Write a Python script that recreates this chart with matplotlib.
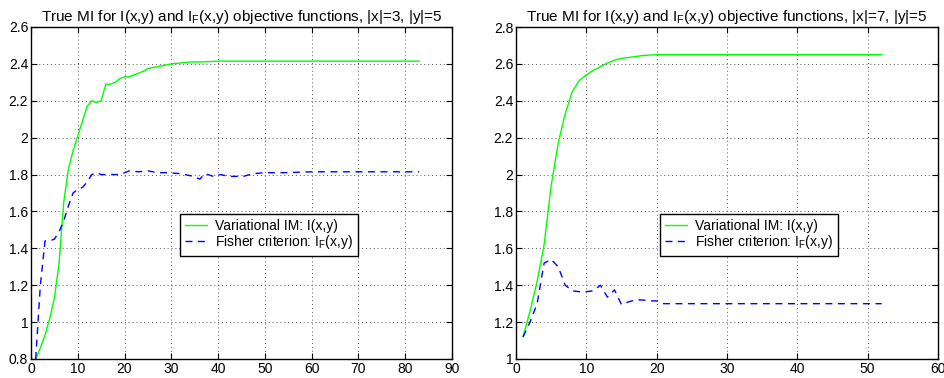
import matplotlib
matplotlib.use('Agg')
import matplotlib.pyplot as plt
from matplotlib.ticker import FormatStrFormatter

plt.rcParams['font.family'] = ['Liberation Sans', 'DejaVu Sans']
plt.rcParams['mathtext.fontset'] = 'custom'
plt.rcParams['mathtext.rm'] = 'Liberation Sans'
plt.rcParams['mathtext.it'] = 'Liberation Sans'
plt.rcParams['font.size'] = 10

# left panel: |x|=3, |y|=5
left_x_mi = [1, 2, 3, 4, 5, 6, 7, 8, 9, 10, 11, 12, 13, 14, 15, 16, 17, 18, 19, 20,
             21, 22, 23, 24, 25, 26, 27, 28, 29, 30, 32, 34, 36, 40, 50, 60, 70, 83]
left_mi = [0.80, 0.86, 0.93, 1.02, 1.13, 1.32, 1.65, 1.83, 1.93, 2.01, 2.09, 2.17, 2.20,
           2.19, 2.20, 2.29, 2.29, 2.30, 2.32, 2.33, 2.33, 2.34, 2.35, 2.36, 2.375, 2.38,
           2.385, 2.39, 2.395, 2.40, 2.405, 2.41, 2.41, 2.415, 2.415, 2.415, 2.415, 2.415]
left_x_fisher = [1, 2, 3, 4, 5, 6, 7, 8, 9, 10, 11, 12, 13, 14, 15, 17, 19, 21, 23, 25,
                 27, 29, 32, 34.7, 36.1, 37.2, 39, 40.4, 42.5, 45.4, 47.5, 50, 54, 60, 70, 83]
left_fisher = [0.80, 1.20, 1.44, 1.44, 1.45, 1.49, 1.55, 1.63, 1.70, 1.72, 1.73, 1.76,
               1.80, 1.81, 1.80, 1.80, 1.80, 1.82, 1.815, 1.82, 1.81, 1.81, 1.805, 1.79,
               1.775, 1.805, 1.79, 1.80, 1.79, 1.79, 1.805, 1.81, 1.81, 1.815, 1.815, 1.815]

# right panel: |x|=7, |y|=5
right_x_mi = [1, 2, 3, 4, 5, 6, 7, 8, 9, 10, 11, 12, 13, 14, 15, 16, 17, 18, 19, 20, 30, 40, 52]
right_mi = [1.12, 1.26, 1.42, 1.62, 1.94, 2.17, 2.33, 2.45, 2.51, 2.54, 2.565, 2.585, 2.605,
            2.62, 2.63, 2.635, 2.64, 2.645, 2.648, 2.65, 2.65, 2.65, 2.65]
right_x_fisher = [1, 2, 3, 4, 5, 6, 7, 8, 9, 10, 11, 12, 13, 14, 15, 16, 17, 18, 19, 20,
                  21, 30, 40, 52]
right_fisher = [1.12, 1.20, 1.30, 1.52, 1.54, 1.50, 1.40, 1.37, 1.365, 1.365, 1.37, 1.40,
                1.335, 1.375, 1.295, 1.31, 1.32, 1.32, 1.315, 1.315, 1.30, 1.30, 1.30, 1.30]

panels = [
    dict(x_mi=left_x_mi, mi=left_mi, x_f=left_x_fisher, f=left_fisher,
         xlim=(0, 90), ylim=(0.8, 2.6), xsize=3, ysize=5,
         rect=[31 / 945, 1 - 359 / 378, 421 / 945, 332 / 378], leg_x=0.354),
    dict(x_mi=right_x_mi, mi=right_mi, x_f=right_x_fisher, f=right_fisher,
         xlim=(0, 60), ylim=(1.0, 2.8), xsize=7, ysize=5,
         rect=[516 / 945, 1 - 359 / 378, 422 / 945, 332 / 378], leg_x=0.341),
]

fig = plt.figure(figsize=(9.45, 3.78), dpi=100)

for p in panels:
    ax = fig.add_axes(p['rect'])
    ax.plot(p['x_mi'], p['mi'], color='#00ff00', linewidth=1.0,
            label='Variational IM: I(x,y)')
    ax.plot(p['x_f'], p['f'], color='#0000ff', linewidth=1.0, linestyle=(0, (5, 4)),
            label=r'Fisher criterion: I$_\mathregular{F}$(x,y)')
    ax.set_xlim(*p['xlim'])
    ax.set_ylim(*p['ylim'])
    ax.set_yticks([round(p['ylim'][0] + 0.2 * i, 1) for i in range(10)])
    ax.yaxis.set_major_formatter(FormatStrFormatter('%g'))
    ax.grid(True, color='#555555', linestyle=(0, (1, 3)), linewidth=0.7)
    ax.tick_params(direction='in', length=4, width=0.8, labelsize=10, pad=2,
                   top=True, right=True)
    for s in ax.spines.values():
        s.set_linewidth(1.0)
    ax.set_title(r'True MI for I(x,y) and I$_\mathregular{F}$(x,y) objective functions, '
                 f'|x|={p["xsize"]}, |y|={p["ysize"]}', fontsize=11, pad=4)
    leg = ax.legend(loc='lower left', bbox_to_anchor=(p['leg_x'], 0.31),
                    fancybox=False, framealpha=1, edgecolor='black', fontsize=10,
                    handlelength=1.6, borderpad=0.35, labelspacing=0.0,
                    handletextpad=0.6, borderaxespad=0)
    leg.get_frame().set_linewidth(1.0)

plt.savefig('out.png', dpi=100)
